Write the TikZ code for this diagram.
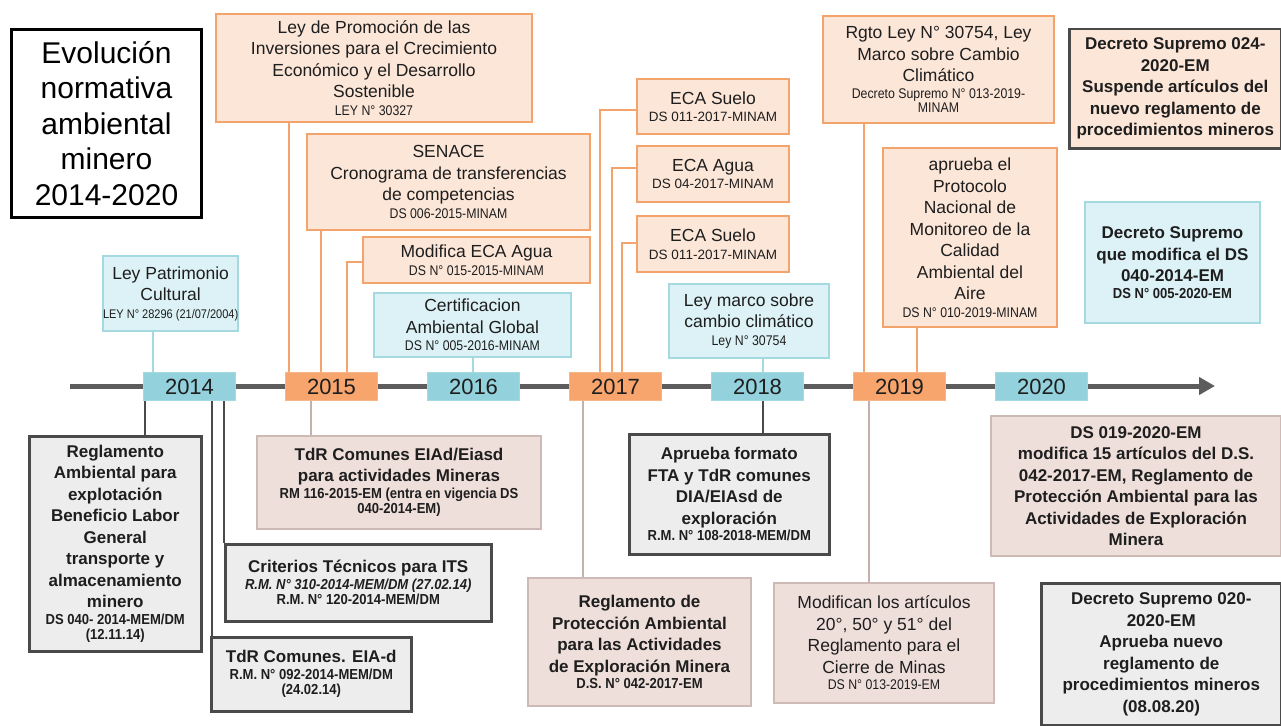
\documentclass[tikz,border=0pt]{standalone}
\usepackage{fontspec}
\setmainfont{Liberation Sans}
\newfontfamily\narrowf[FakeStretch=0.88]{Liberation Sans}
\newfontfamily\narrowb[FakeStretch=0.9]{Liberation Sans}
\usetikzlibrary{arrows.meta}
\definecolor{peach}{HTML}{FCE6D8}
\definecolor{orangeB}{HTML}{F3A46C}
\definecolor{yorange}{HTML}{F7A56C}
\definecolor{yblueF}{HTML}{93D2DD}
\definecolor{lblue}{HTML}{DDF2F6}
\definecolor{blueB}{HTML}{A3D9DF}
\definecolor{grayF}{HTML}{EDEDED}
\definecolor{darkB}{HTML}{4A4A4A}
\definecolor{pinkF}{HTML}{EFDFDB}
\definecolor{pinkB}{HTML}{CDBAB6}
\definecolor{pinkC}{HTML}{C4B0AD}
\definecolor{txt}{HTML}{1E1E1E}
\newcommand\txbig{\fontsize{17.5}{21.5}\selectfont}
\newcommand\txbold{\fontsize{17}{21.5}\selectfont\bfseries}
\newcommand\txsmall{\narrowf\fontsize{14}{15}\selectfont}
\newcommand\txsmb{\narrowb\fontsize{14.5}{15}\selectfont\bfseries}
\newcommand\txsmalr{\fontsize{13.5}{15}\selectfont}
\begin{document}
\begin{tikzpicture}[x=1pt,y=-1pt,
  box/.style={rectangle, inner sep=0pt, align=center, anchor=north west, text=txt},
  obox/.style={box, fill=peach, draw=orangeB, line width=2pt, font=\txbig},
  bbox/.style={box, fill=lblue, draw=blueB, line width=2pt, font=\txbig},
  gbox/.style={box, fill=grayF, draw=darkB, line width=2.5pt, font=\txbold},
  pbox/.style={box, fill=pinkF, draw=pinkB, line width=2pt, font=\txbold},
  dpbox/.style={box, fill=peach, draw=darkB, line width=2.5pt, font=\txbold},
  yearbox/.style={box, minimum width=92pt, minimum height=28pt, font=\fontsize{22}{24}\selectfont},
  yb/.style={yearbox, fill=yblueF, draw=blueB, line width=1pt},
  yo/.style={yearbox, fill=yorange, draw=orangeB!80!white, line width=1pt},
  corange/.style={draw=orangeB, line width=2.5pt},
  cteal/.style={draw=blueB, line width=2.5pt},
  cdark/.style={draw=darkB, line width=2.5pt},
  cpink/.style={draw=pinkC, line width=2.5pt},
  tline/.style={draw=darkB!90!white, line width=5pt, -{Triangle[length=16pt,width=17pt]}}
]
\useasboundingbox[fill=white] (0,0) rectangle (1281,725);

% timeline
\coordinate (tl0) at (70,386);
\coordinate (tl1) at (1215,386);
\draw[tline] (tl0) -- (tl1);

% connector guide coordinates
\coordinate (k1) at (153,0);
\coordinate (k2) at (289,0);
\coordinate (k3) at (321,0);
\coordinate (k4) at (347,262);
\coordinate (k5) at (473,0);
\coordinate (k6) at (600,110);
\coordinate (k7) at (612,168);
\coordinate (k8) at (622,243);
\coordinate (k9) at (763,0);
\coordinate (k10) at (864,0);
\coordinate (k11) at (917,0);
\coordinate (m1) at (145,0);
\coordinate (m2) at (212,0);
\coordinate (m3) at (224,0);
\coordinate (m4) at (311,0);
\coordinate (m5) at (583,0);
\coordinate (m6) at (763,0);
\coordinate (m7) at (869,0);

% title
\node[box, fill=white, draw=black, line width=3pt, minimum width=190pt, minimum height=188pt,
      font=\fontsize{30}{35.5}\selectfont, text=black] (title) at (10,28)
  {Evolución\\normativa\\ambiental\\minero\\2014-2020};

% year boxes
\node[yb] (y14) at (143,372) {2014};
\node[yo] (y15) at (285,372) {2015};
\node[yb] (y16) at (427,372) {2016};
\node[yo] (y17) at (569,372) {2017};
\node[yb] (y18) at (711,372) {2018};
\node[yo] (y19) at (853,372) {2019};
\node[yb] (y20) at (995,372) {2020};

% upper boxes
\node[obox, minimum width=316pt, minimum height=108pt] (lp) at (215,13)
  {Ley de Promoción de las\\Inversiones para el Crecimiento\\Económico y el Desarrollo\\Sostenible\\[-4pt]{\txsmall LEY N° 30327}};
\node[obox, minimum width=283pt, minimum height=96pt] (sen) at (306,133)
  {SENACE\\Cronograma de transferencias\\de competencias\\[-4pt]{\txsmall DS 006-2015-MINAM}};
\node[obox, minimum width=227pt, minimum height=46pt] (mod) at (362,236)
  {Modifica ECA Agua\\[-4pt]{\txsmall DS N° 015-2015-MINAM}};
\node[bbox, minimum width=197pt, minimum height=64pt] (cer) at (373,292)
  {Certificacion\\Ambiental Global\\[-4pt]{\txsmall DS N° 005-2016-MINAM}};
\node[bbox, minimum width=133pt, minimum height=75pt] (pat) at (102,255)
  {Ley Patrimonio\\Cultural\\[-4pt]{\txsmall\fontsize{12.5}{14}\selectfont LEY N° 28296 (21/07/2004)}};
\node[obox, minimum width=152pt, minimum height=55pt] (e1) at (636,78)
  {ECA Suelo\\[-4pt]{\txsmalr DS 011-2017-MINAM}};
\node[obox, minimum width=152pt, minimum height=56pt] (e2) at (636,145)
  {ECA Agua\\[-4pt]{\txsmalr DS 04-2017-MINAM}};
\node[obox, minimum width=152pt, minimum height=56pt] (e3) at (636,215)
  {ECA Suelo\\[-4pt]{\txsmalr DS 011-2017-MINAM}};
\node[bbox, minimum width=160pt, minimum height=74pt] (lm) at (668,283)
  {Ley marco sobre\\cambio climático\\[-4pt]{\txsmall Ley N° 30754}};
\node[obox, minimum width=231pt, minimum height=107pt] (rg) at (822,15)
  {Rgto Ley N° 30754, Ley\\Marco sobre Cambio\\Climático\\[-5pt]{\txsmall Decreto Supremo N° 013-2019-}\\[-7pt]{\txsmall MINAM}};
\node[obox, minimum width=174pt, minimum height=179pt] (pr) at (882,147)
  {aprueba el\\Protocolo\\Nacional de\\Monitoreo de la\\Calidad\\Ambiental del\\Aire\\[-4pt]{\txsmall DS N° 010-2019-MINAM}};
\node[dpbox, minimum width=212pt, minimum height=119pt] (d24) at (1068,28)
  {Decreto Supremo 024-\\2020-EM\\Suspende artículos del\\nuevo reglamento de\\procedimientos mineros};
\node[bbox, font=\txbold, minimum width=175pt, minimum height=121pt] (dmod) at (1084,201)
  {Decreto Supremo\\que modifica el DS\\040-2014-EM\\[-5pt]{\txsmb DS N° 005-2020-EM}};

% lower boxes
\node[gbox, minimum width=172pt, minimum height=215pt] (ra) at (28,435)
  {Reglamento\\Ambiental para\\explotación\\Beneficio Labor\\General\\transporte y\\almacenamiento\\minero\\[-5pt]{\txsmb DS 040- 2014-MEM/DM}\\[-6pt]{\txsmb (12.11.14)}};
\node[pbox, minimum width=284pt, minimum height=93pt] (te) at (256,435)
  {TdR Comunes EIAd/Eiasd\\para actividades Mineras\\[-5pt]{\txsmb RM 116-2015-EM (entra en vigencia DS}\\[-6pt]{\txsmb 040-2014-EM)}};
\node[gbox, minimum width=266pt, minimum height=77pt] (cr) at (224,543)
  {Criterios Técnicos para ITS\\[-5pt]{\txsmb\itshape R.M. N° 310-2014-MEM/DM (27.02.14)}\\[-6pt]{\txsmb R.M. N° 120-2014-MEM/DM}};
\node[gbox, minimum width=200pt, minimum height=74pt] (td) at (210,636)
  {TdR Comunes. EIA-d\\[-5pt]{\txsmb R.M. N° 092-2014-MEM/DM}\\[-6pt]{\txsmb (24.02.14)}};
\node[gbox, minimum width=200pt, minimum height=120pt] (af) at (628,433)
  {Aprueba formato\\FTA y TdR comunes\\DIA/EIAsd de\\exploración\\[-5pt]{\txsmb R.M. N° 108-2018-MEM/DM}};
\node[pbox, minimum width=223pt, minimum height=128pt] (rp) at (527,577)
  {Reglamento de\\Protección Ambiental\\para las Actividades\\de Exploración Minera\\[-5pt]{\txsmb D.S. N° 042-2017-EM}};
\node[pbox, font=\txbig, minimum width=220pt, minimum height=120pt] (mf) at (773,582)
  {Modifican los artículos\\20°, 50° y 51° del\\Reglamento para el\\Cierre de Minas\\[-5pt]{\txsmall DS N° 013-2019-EM}};
\node[pbox, minimum width=290pt, minimum height=140pt] (d19) at (990,415)
  {DS 019-2020-EM\\modifica 15 artículos del D.S.\\042-2017-EM, Reglamento de\\Protección Ambiental para las\\Actividades de Exploración\\Minera};
\node[gbox, minimum width=240pt, minimum height=142pt] (d20) at (1040,582)
  {Decreto Supremo 020-\\2020-EM\\Aprueba nuevo\\reglamento de\\procedimientos mineros\\(08.08.20)};

% upper connectors
\draw[cteal] (pat.south -| k1) -- (y14.north -| k1);
\draw[corange] (lp.south -| k2) -- (y15.north -| k2);
\draw[corange] (sen.south -| k3) -- (y15.north -| k3);
\draw[corange] (mod.west |- k4) -- (k4) -- (y15.north -| k4);
\draw[cteal] (cer.south -| k5) -- (y16.north -| k5);
\draw[corange] (e1.west |- k6) -- (k6) -- (y17.north -| k6);
\draw[corange] (e2.west |- k7) -- (k7) -- (y17.north -| k7);
\draw[corange] (e3.west |- k8) -- (k8) -- (y17.north -| k8);
\draw[cteal] (lm.south -| k9) -- (y18.north -| k9);
\draw[corange] (rg.south -| k10) -- (y19.north -| k10);
\draw[corange] (pr.south -| k11) -- (y19.north -| k11);

% lower connectors
\draw[cdark] (y14.south -| m1) -- (ra.north -| m1);
\draw[cdark] (y14.south -| m2) -- (td.north -| m2);
\draw[cdark] (y14.south -| m3) -- (cr.north -| m3);
\draw[cpink] (y15.south -| m4) -- (te.north -| m4);
\draw[cpink] (y17.south -| m5) -- (rp.north -| m5);
\draw[cdark] (y18.south -| m6) -- (af.north -| m6);
\draw[cpink] (y19.south -| m7) -- (mf.north -| m7);
\end{tikzpicture}
\end{document}
